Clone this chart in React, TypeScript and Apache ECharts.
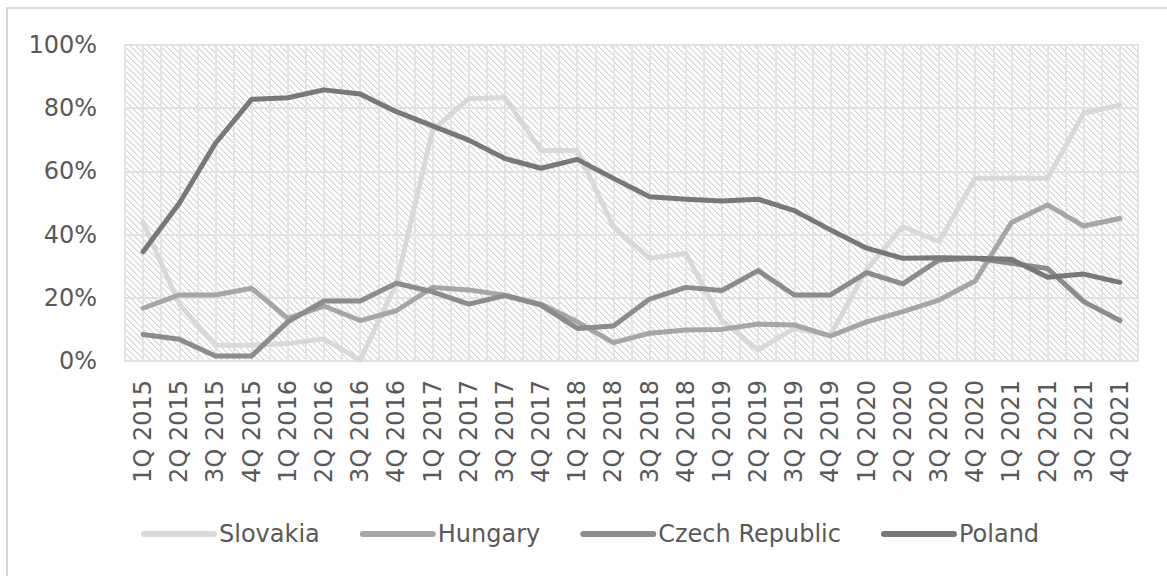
import React, { useEffect, useRef } from "react";
import * as echarts from "echarts";

const categories = [
  "1Q 2015", "2Q 2015", "3Q 2015", "4Q 2015",
  "1Q 2016", "2Q 2016", "3Q 2016", "4Q 2016",
  "1Q 2017", "2Q 2017", "3Q 2017", "4Q 2017",
  "1Q 2018", "2Q 2018", "3Q 2018", "4Q 2018",
  "1Q 2019", "2Q 2019", "3Q 2019", "4Q 2019",
  "1Q 2020", "2Q 2020", "3Q 2020", "4Q 2020",
  "1Q 2021", "2Q 2021", "3Q 2021", "4Q 2021",
];

const slovakia = [44, 18, 5, 5, 5.5, 7, 0.3, 24.5, 73, 83, 83.4, 66.6, 66.6, 42.5, 32.5, 34, 12.8, 3.5, 10.3, 8.2, 29, 42.5, 37.8, 57.8, 57.8, 57.8, 78.4, 81];
const hungary = [16.7, 20.9, 20.9, 23, 13.5, 17.4, 12.8, 15.9, 23.3, 22.5, 20.8, 18, 12.4, 5.8, 8.8, 9.8, 10, 11.7, 11.4, 7.9, 12.4, 15.6, 19.3, 25.3, 43.8, 49.4, 42.7, 45.1];
const czech = [8.4, 6.9, 1.6, 1.6, 12.4, 19, 19, 24.6, 21.9, 18, 20.7, 17.7, 10.3, 11.1, 19.6, 23.3, 22.3, 28.6, 20.9, 20.9, 28, 24.4, 32, 32.5, 30.9, 29.3, 18.8, 12.8];
const poland = [34.6, 49.9, 68.9, 82.8, 83.3, 85.8, 84.5, 78.9, 74.4, 69.9, 64.1, 61, 63.8, 57.8, 52, 51.2, 50.6, 51.2, 47.6, 41.5, 35.7, 32.5, 32.7, 32.5, 32.2, 26.5, 27.5, 24.9];

const seriesNames = ["Slovakia", "Hungary", "Czech Republic", "Poland"];
const seriesColors = ["#d9d9d9", "#a6a6a6", "#8c8c8c", "#787878"];
const yTicks = { min: 0, max: 100, interval: 20 };

const FONT = "DejaVu Sans";
const TEXT = "#595959";

export default function App() {
  const ref = useRef<HTMLDivElement>(null);
  useEffect(() => {
    if (!ref.current) return;
    const chart = echarts.init(ref.current, undefined, { renderer: "svg" });

    const tile = document.createElement("canvas");
    tile.width = 6;
    tile.height = 6;
    const ctx = tile.getContext("2d")!;
    ctx.fillStyle = "#ffffff";
    ctx.fillRect(0, 0, 6, 6);
    ctx.fillStyle = "#d2d2d2";
    for (let i = 0; i < 6; i++) ctx.fillRect(i, i, 1, 1);
    ctx.fillStyle = "#ebebeb";
    for (let i = 0; i < 6; i++) ctx.fillRect((i + 1) % 6, i, 1, 1);

    const data = [slovakia, hungary, czech, poland];

    chart.setOption({
      animation: false,
      backgroundColor: "#ffffff",
      textStyle: { fontFamily: FONT },
      graphic: [
        {
          type: "rect",
          shape: { x: 7, y: 8, width: 1300, height: 700 },
          style: { fill: "none", stroke: "#d9d9d9", lineWidth: 2 },
          silent: true,
        },
      ],
      grid: {
        left: 125,
        top: 45,
        width: 1013,
        height: 316,
        show: true,
        borderColor: "#dedede",
        borderWidth: 2,
        backgroundColor: {
          image: tile,
          repeat: "repeat",
          imageWidth: 6,
          imageHeight: 6,
        } as any,
      },
      legend: {
        data: seriesNames,
        left: 141,
        top: 522,
        padding: 0,
        itemWidth: 70,
        itemHeight: 14,
        itemGap: 40,
        lineStyle: { width: 6, cap: "round" },
        itemStyle: { color: "rgba(0,0,0,0)", borderWidth: 0, opacity: 0 },
        textStyle: { fontFamily: FONT, fontSize: 24, color: TEXT },
      },
      xAxis: [
        {
          type: "category",
          data: categories,
          boundaryGap: true,
          axisLine: { show: false },
          axisTick: { show: false },
          splitLine: { show: false },
          axisLabel: {
            rotate: 90,
            margin: 19,
            interval: 0,
            fontFamily: FONT,
            fontSize: 24,
            color: TEXT,
          },
        },
        {
          type: "value",
          min: 0,
          max: categories.length * 2,
          interval: 1,
          position: "top",
          axisLine: { show: false },
          axisTick: { show: false },
          axisLabel: { show: false },
          splitLine: { show: true, lineStyle: { color: "#e4e4e4", width: 2 } },
        },
      ],
      yAxis: {
        type: "value",
        min: yTicks.min,
        max: yTicks.max,
        interval: yTicks.interval,
        axisLine: { show: false },
        axisTick: { show: false },
        splitLine: { show: true, lineStyle: { color: "#e2e2e2", width: 2 } },
        axisLabel: {
          formatter: "{value}%",
          margin: 28,
          fontFamily: FONT,
          fontSize: 24,
          color: TEXT,
        },
      },
      series: seriesNames.map((name, i) => ({
        name,
        type: "line",
        xAxisIndex: 0,
        data: data[i],
        symbol: "none",
        color: seriesColors[i],
        lineStyle: { width: 5, color: seriesColors[i], cap: "round", join: "round" },
      })),
    });
    return () => chart.dispose();
  }, []);
  return (
    <div
      ref={ref}
      style={{ position: "fixed", left: 0, top: 0, width: 1167, height: 576 }}
    />
  );
}
